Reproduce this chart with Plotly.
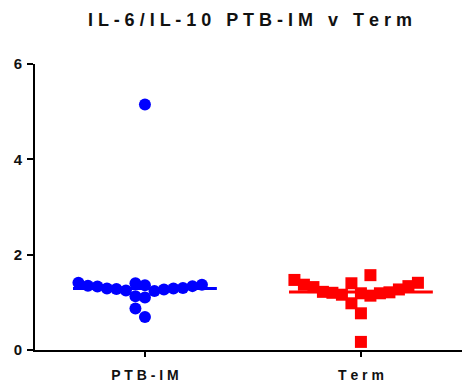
import numpy as np
import plotly.graph_objects as go

# IL-6/IL-10 ratio per subject
groups = ["PTB-IM", "Term"]
ptb_im = [1.37, 1.35, 1.33, 1.29, 1.27, 1.24, 1.40, 1.13, 0.69, 1.10,
          1.41, 0.87, 1.25, 1.28, 1.29, 1.30, 1.34, 1.36, 5.15]
term = [1.47, 1.40, 1.34, 1.27, 1.20, 1.19, 1.14, 0.98, 1.57, 0.77,
        0.17, 1.16, 1.19, 1.21, 1.22, 1.32, 1.37, 1.41]
y_ticks = [0, 2, 4, 6]

W, H = 464, 383
M = dict(l=35, r=2, t=64, b=33)
X_RANGE = [-0.509, 1.468]
Y_RANGE = [0, 6]
px_x = (W - M["l"] - M["r"]) / (X_RANGE[1] - X_RANGE[0])
px_y = (H - M["t"] - M["b"]) / (Y_RANGE[1] - Y_RANGE[0])


def swarm(values, center, sep_x, sep_y, step=0.5):
    """Greedy dot-plot layout: lowest values sit closest to the centre line.
    Two symbols clash when they are closer than sep_x across AND sep_y down."""
    vals = np.asarray(values, dtype=float)
    xs = np.zeros(len(vals))
    placed = []
    for i in np.argsort(vals, kind="stable"):
        yp = vals[i] * px_y
        k = 0
        while True:
            cands = [0.0] if k == 0 else [-k * step, k * step]
            hit = None
            for xo in cands:
                if all(abs(xo - a) >= sep_x - 1e-9 or abs(yp - b) >= sep_y for a, b in placed):
                    hit = xo
                    break
            if hit is not None:
                placed.append((hit, yp))
                xs[i] = center + hit / px_x
                break
            k += 1
    return xs


def spaced(s):
    return " ".join(s)


fig = go.Figure()
series = [
    (ptb_im, "#0000FF", "circle", 12, 9.5, 12.0),
    (term, "#FF0000", "square", 12, 9.5, 20.0),
]
for idx, (vals, color, sym, size, sx, sy) in enumerate(series):
    med = float(np.median(vals))
    fig.add_trace(go.Scatter(
        x=[idx - 0.333, idx + 0.333], y=[med, med], mode="lines",
        line=dict(color=color, width=3), showlegend=False, hoverinfo="skip"))
    fig.add_trace(go.Scatter(
        x=swarm(vals, idx, sx, sy), y=vals, mode="markers",
        marker=dict(color=color, symbol=sym, size=size, line=dict(width=0)),
        showlegend=False, name=groups[idx]))

font = "Liberation Sans, Arial, Helvetica, sans-serif"
fig.update_layout(
    width=W, height=H, margin=M,
    paper_bgcolor="white", plot_bgcolor="white",
    title=dict(text="<b>" + spaced("IL-6/IL-10 PTB-IM v Term") + "</b>",
               x=250 / W, xanchor="center", y=1 - 20 / H, yanchor="middle",
               font=dict(family=font, size=18, color="#111111")),
    xaxis=dict(range=X_RANGE, showgrid=False, zeroline=False, automargin=False,
               showline=True, linecolor="black", linewidth=2,
               ticks="outside", ticklen=5, tickwidth=2, tickcolor="black",
               ticklabelstandoff=6,
               tickvals=[0, 1], ticktext=["<b>" + spaced(g) + "</b>" for g in groups],
               tickfont=dict(family=font, size=14, color="#111111")),
    yaxis=dict(range=Y_RANGE, showgrid=False, zeroline=False, automargin=False,
               showline=True, linecolor="black", linewidth=2,
               ticks="outside", ticklen=6, tickwidth=2, tickcolor="black",
               ticklabelstandoff=2,
               tickvals=y_ticks, ticktext=["<b>%d</b>" % v for v in y_ticks],
               tickfont=dict(family=font, size=15, color="#111111")),
)

fig.write_html("out.html")
